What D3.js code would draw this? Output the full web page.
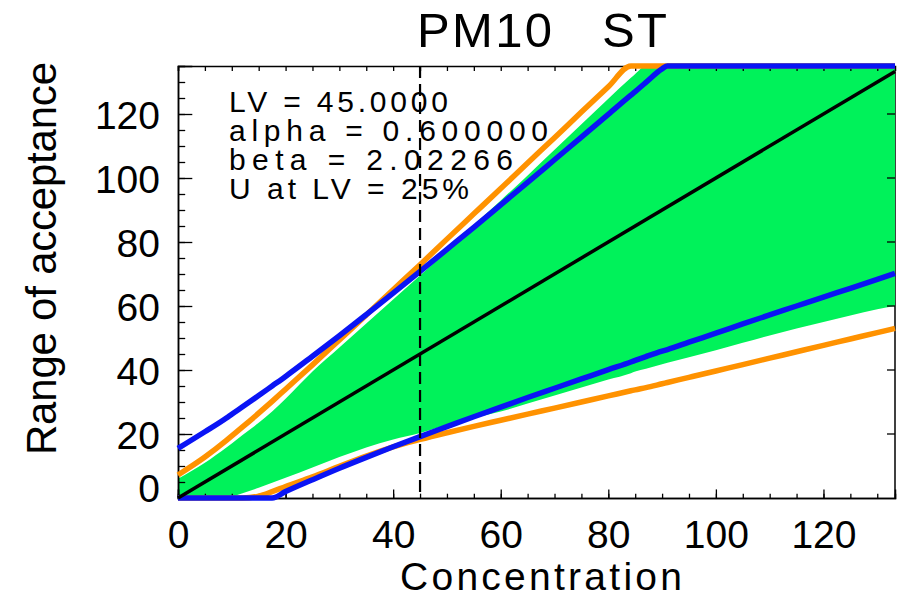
<!DOCTYPE html>
<html><head><meta charset="utf-8">
<script src="https://cdn.jsdelivr.net/npm/d3@7"></script>
<style>body{margin:0;background:#fff}svg{display:block}text{font-family:"Liberation Sans",Arial,sans-serif;fill:#000}</style>
</head><body>
<script>
const concentration = [0,5,9,10,12,15,17.5,20,25,30,35,40,45,50,55,60,65,70,75,80,84.2,85,87,90,91,95,100,105,110,115,120,125,130,133.3];
const blueUpper  = [15.5,20.7,25.0,26.2,28.5,32.0,35.0,38.0,44.3,50.7,57.3,64.0,70.8,77.7,84.6,91.6,98.6,105.7,112.8,119.9,125.9,127.0,129.9,134.1,135,135,135,135,135,135,135,135,135,135];
const blueLower  = [0,0,0,0,0,0,0,2.0,5.7,9.3,12.7,16.0,19.2,22.3,25.4,28.4,31.4,34.3,37.2,40.1,42.5,43.0,44.2,45.9,46.4,48.7,51.5,54.4,57.2,60.0,62.8,65.5,68.3,70.2];
const orangeUpper= [7.2,12.8,18.0,19.4,22.2,26.5,30.2,34.0,41.6,49.4,57.2,65.1,72.9,80.9,88.8,96.7,104.7,112.6,120.6,128.5,135,135,135,135,135,135,135,135,135,135,135,135,135,135];
const orangeLower= [0,0,0,0,0,0.6,2.0,3.6,6.6,9.9,13.1,16.0,18.3,20.4,22.4,24.3,26.2,28.1,30.0,31.9,33.5,33.8,34.5,35.7,36.1,37.7,39.7,41.7,43.7,45.7,47.7,49.7,51.7,53.0];
const greenUpper = [6.0,11,15.8,17,19.7,23.5,27,31,39.5,47,54.5,62,69.5,77.3,85.3,93,100.8,108.8,116.8,124.8,131.3,132.5,135,135,135,135,135,135,135,135,135,135,135,135];
const greenLower = [0,0,0,0.4,1.5,3.2,4.8,6.3,9.5,12.8,15.8,18.3,20.3,22.8,25,27,29.5,32,34.5,37,39,39.5,40.4,41.8,42.3,44,46.2,48.5,50.8,53,55,57,59,60];
const oneToOne = [0,133.3];
const limitValue = 45;
const tickValues = [0,20,40,60,80,100,120];
const infoLines = ["LV = 45.0000","alpha = 0.600000","beta = 2.02266","U at LV = 25%"];
const title = "PM10   ST";
const xTitle = "Concentration";
const yTitle = "Range of acceptance";

const W = 897, H = 599;
const L = 178, R = 895, T = 66, B = 498;
const x = d3.scaleLinear().domain([0,133.3]).range([L,R]);
const y = d3.scaleLinear().domain([0,135]).range([B,T]);
const minor = d3.range(0,133.3,5);

const svg = d3.select("body").append("svg").attr("width",W).attr("height",H);

// right border (under fill)
svg.append("line").attr("x1",R).attr("x2",R).attr("y1",T).attr("y2",B).attr("stroke","#000").attr("stroke-width",1.5);

const pts = concentration.map((c,i)=>({c,i}));
// green band
const area = d3.area().x(d=>x(d.c)).y0(d=>y(greenLower[d.i])).y1(d=>y(greenUpper[d.i])).curve(d3.curveMonotoneX);
svg.append("path").datum(pts).attr("d",area).attr("fill","#00f25a");

// axes
const ax = svg.append("g");
ax.append("g").attr("transform",`translate(0,${B})`)
  .call(d3.axisBottom(x).tickValues(minor).tickSize(-4.3).tickFormat(""));
ax.append("g").attr("transform",`translate(0,${B})`)
  .call(d3.axisBottom(x).tickValues(tickValues).tickSize(-8.6).tickPadding(22).tickFormat(d3.format("d")));
ax.append("g").attr("transform",`translate(0,${T})`)
  .call(d3.axisTop(x).tickValues(minor).tickSize(-5).tickFormat(""));
ax.append("g").attr("transform",`translate(${L},0)`)
  .call(d3.axisLeft(y).tickValues(d3.range(0,135,5)).tickSize(-7.2).tickFormat(""));
ax.append("g").attr("transform",`translate(${L},0)`).attr("class","yax")
  .call(d3.axisLeft(y).tickValues(tickValues).tickSize(-14.3).tickPadding(18).tickFormat(d3.format("d")));
ax.selectAll("path.domain").attr("stroke","#000").attr("stroke-width",1.5);
ax.selectAll(".tick line").attr("stroke","#000").attr("stroke-width",1.3);
ax.selectAll(".tick text").style("font-size","39px").attr("fill","#000");
ax.selectAll(".yax .tick text").attr("dy","0.36em").filter(d=>d===0).attr("dy","0.1em");
// right ticks (major only)
svg.append("g").selectAll("line").data(tickValues.filter(d=>d>0)).join("line")
  .attr("x1",R-8).attr("x2",R).attr("y1",d=>y(d)).attr("y2",d=>y(d)).attr("stroke","#000").attr("stroke-width",1.3);

// lines
const line = arr => d3.line().x(d=>x(d.c)).y(d=>y(arr[d.i])).curve(d3.curveMonotoneX);
const drawLine = (arr,col) => svg.append("path").datum(pts).attr("d",line(arr)).attr("fill","none")
  .attr("stroke",col).attr("stroke-width",5.5).attr("stroke-linejoin","round");
drawLine(orangeUpper,"#ff9200");
drawLine(orangeLower,"#ff9200");
drawLine(blueUpper,"#0a14f5");
drawLine(blueLower,"#0a14f5");
svg.append("path").datum(oneToOne).attr("d",d3.line().x(d=>x(d)).y(d=>y(d))).attr("fill","none").attr("stroke","#000").attr("stroke-width",3.5);

// LV dashed
svg.append("line").attr("x1",x(limitValue)).attr("x2",x(limitValue)).attr("y1",T).attr("y2",B)
  .attr("stroke","#000").attr("stroke-width",2.2).attr("stroke-dasharray","12,6");

// info text
const infoLen = [219,319,284,240];
svg.append("g").selectAll("text").data(infoLines).join("text")
  .attr("x",229).attr("y",(d,i)=>112+i*29).style("font-size","30px")
  .attr("textLength",(d,i)=>infoLen[i]).attr("lengthAdjust","spacing").text(d=>d);

// titles
svg.append("text").attr("x",417).attr("y",47).style("font-size","49px").style("white-space","pre")
  .attr("textLength",250).attr("lengthAdjust","spacing").text(title);
svg.append("text").attr("x",400).attr("y",590).style("font-size","39px")
  .attr("textLength",282).attr("lengthAdjust","spacing").text(xTitle);
svg.append("text").attr("transform","translate(56,455) rotate(-90)").style("font-size","42px")
  .attr("textLength",393).attr("lengthAdjust","spacing").text(yTitle);
</script>
</body></html>
